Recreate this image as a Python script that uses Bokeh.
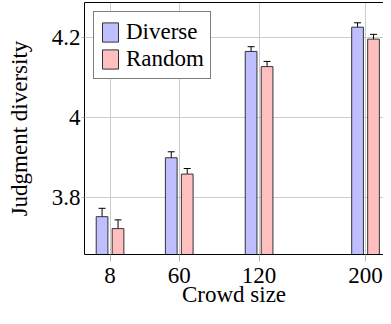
from bokeh.plotting import figure
from bokeh.models import (ColumnDataSource, FixedTicker, LinearAxis, Range1d,
                          Whisker, TeeHead, Legend, LegendItem)
from bokeh.embed import file_html
from bokeh.resources import INLINE

# ---- data ----
crowd_sizes = [8, 60, 120, 200]
x_tick_labels = ["8", "60", "120", "200"]
diverse = [3.751, 3.899, 4.166, 4.227]
diverse_err = [0.021, 0.015, 0.012, 0.011]
random_vals = [3.721, 3.858, 4.128, 4.197]
random_err = [0.022, 0.014, 0.013, 0.012]
y_ticks = [3.8, 4.0, 4.2]
y_tick_labels = ["3.8", "4", "4.2"]
series_names = ["Diverse", "Random"]
x_label = "Crowd size"
y_label = "Judgment diversity"

FONT = "Liberation Serif"
FS = "23px"
BAR_W = 8.8
OFF = 6.0

p = figure(width=383, height=316, output_backend="svg", toolbar_location=None,
           x_range=Range1d(-11.2, 213.5), y_range=Range1d(3.656, 4.289),
           min_border_left=84, min_border_right=0, min_border_top=2,
           min_border_bottom=62)
p.outline_line_color = None
p.background_fill_color = "white"
p.border_fill_color = "white"

src = ColumnDataSource(dict(
    xd=[x - OFF for x in crowd_sizes],
    xr=[x + OFF for x in crowd_sizes],
    d=diverse, r=random_vals,
    d_lo=[v - e for v, e in zip(diverse, diverse_err)],
    d_hi=[v + e for v, e in zip(diverse, diverse_err)],
    r_lo=[v - e for v, e in zip(random_vals, random_err)],
    r_hi=[v + e for v, e in zip(random_vals, random_err)],
))

rd = p.vbar(x="xd", top="d", bottom=3.5, width=BAR_W, source=src,
            fill_color="#bfbfff", line_color="#333333", line_width=1)
rr = p.vbar(x="xr", top="r", bottom=3.5, width=BAR_W, source=src,
            fill_color="#ffbfbf", line_color="#333333", line_width=1)

for base, lo, hi in (("xd", "d_lo", "d_hi"), ("xr", "r_lo", "r_hi")):
    w = Whisker(base=base, lower=lo, upper=hi, source=src,
                line_color="black", line_width=1,
                upper_head=TeeHead(size=7, line_color="black", line_width=1),
                lower_head=TeeHead(size=7, line_color="black", line_width=1))
    p.add_layout(w)

# axes
p.xaxis.ticker = FixedTicker(ticks=crowd_sizes)
p.xaxis.major_label_overrides = dict(zip(crowd_sizes, x_tick_labels))
p.yaxis.ticker = FixedTicker(ticks=y_ticks)
p.yaxis.major_label_overrides = dict(zip(y_ticks, y_tick_labels))
p.xaxis.axis_label = x_label
p.yaxis.axis_label = y_label

for ax in p.axis:
    ax.axis_line_color = "black"
    ax.axis_line_width = 1
    ax.major_tick_line_color = "#b4b4b4"
    ax.major_tick_in = 0
    ax.minor_tick_line_color = None
    ax.major_label_text_font = FONT
    ax.major_label_text_font_size = FS
    ax.major_label_text_color = "black"
    ax.axis_label_text_font = FONT
    ax.axis_label_text_font_size = FS
    ax.axis_label_text_font_style = "normal"
    ax.axis_label_text_color = "black"

p.xaxis.major_tick_out = 7
p.xaxis.major_label_standoff = 6
p.xaxis.axis_label_standoff = -4
p.yaxis.major_tick_out = 3
p.yaxis.major_label_standoff = 1
p.yaxis.axis_label_standoff = 17

top = LinearAxis(ticker=FixedTicker(ticks=[]), major_label_text_font_size="0px",
                 major_tick_out=0, major_tick_in=0, minor_tick_out=0,
                 minor_tick_in=0, major_label_standoff=0,
                 axis_line_color="black", axis_line_width=1)
p.add_layout(top, "above")

p.xgrid.ticker = FixedTicker(ticks=crowd_sizes)
p.ygrid.ticker = FixedTicker(ticks=y_ticks)
p.grid.grid_line_color = "#cccccc"
p.grid.grid_line_width = 1

legend = Legend(items=[LegendItem(label=series_names[0], renderers=[rd]),
                       LegendItem(label=series_names[1], renderers=[rr])],
                location=(9, 175), margin=0, padding=6, spacing=0,
                glyph_width=20, glyph_height=24, label_height=27,
                label_standoff=6, label_text_font=FONT,
                label_text_font_size=FS, label_text_color="black",
                border_line_color="black", border_line_width=1,
                background_fill_color="white", background_fill_alpha=1)
p.add_layout(legend)

open("out.html", "w").write(file_html(p, INLINE))
